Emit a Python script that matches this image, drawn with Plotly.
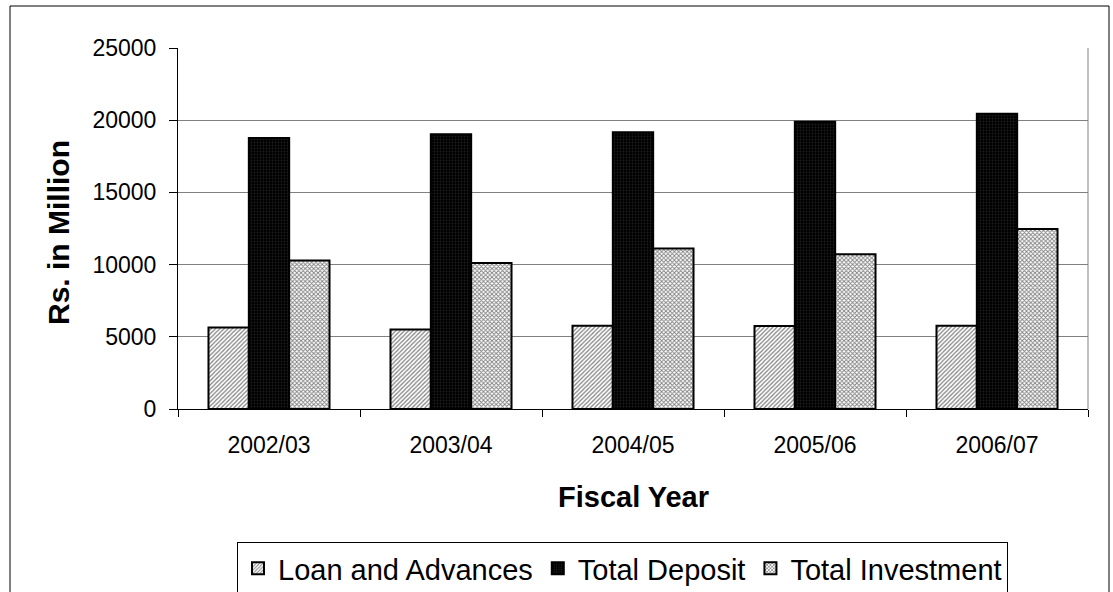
import plotly.graph_objects as go

categories = ["2002/03", "2003/04", "2004/05", "2005/06", "2006/07"]
loan_advances = [5650, 5510, 5770, 5750, 5770]
total_deposit = [18770, 19020, 19160, 19900, 20450]
total_investment = [10290, 10110, 11120, 10710, 12465]
y_ticks = [0, 5000, 10000, 15000, 20000, 25000]
y_tick_text = ["0", "5000", "10000", "15000", "20000", "25000"]

FONT = "Liberation Sans, Arial, sans-serif"

fig = go.Figure()
fig.add_trace(go.Bar(
    name="Loan and Advances", x=categories, y=loan_advances,
    marker=dict(color="white", line=dict(color="black", width=2),
                pattern=dict(shape="/", fgcolor="black", bgcolor="white", size=3, solidity=0.4)),
))
fig.add_trace(go.Bar(
    name="Total Deposit", x=categories, y=total_deposit,
    marker=dict(color="black", line=dict(color="black", width=2),
                pattern=dict(shape=".", fgcolor="#3a3a3a", bgcolor="black", size=3, solidity=0.3)),
))
fig.add_trace(go.Bar(
    name="Total Investment", x=categories, y=total_investment,
    marker=dict(color="white", line=dict(color="black", width=2),
                pattern=dict(shape="x", fgcolor="black", bgcolor="white", size=3, solidity=0.5)),
))

L, R, T, B = 178, 1088, 48, 409
W, H = 1113, 592

def px(x):
    return (x - L) / (R - L)

def py(y):
    return (B - y) / (B - T)

fig.update_layout(
    width=W, height=H,
    margin=dict(l=L, r=W - R, t=T, b=H - B, pad=0, autoexpand=False),
    paper_bgcolor="white", plot_bgcolor="white",
    barmode="group", bargap=0.335, bargroupgap=0,
    font=dict(family=FONT, color="black", size=23),
    showlegend=True,
    legend=dict(orientation="h", x=px(237), xanchor="left", y=py(542), yanchor="top",
                bordercolor="black", borderwidth=1, font=dict(size=29, family=FONT),
                itemwidth=30, tracegroupgap=0),
    xaxis=dict(showline=True, linecolor="black", linewidth=1, ticks="outside",
               tickson="boundaries", ticklen=7, tickcolor="black",
               tickfont=dict(size=23, family=FONT), showgrid=False, ticklabelstandoff=15),
    yaxis=dict(range=[0, 25000], tickvals=y_ticks, ticktext=y_tick_text, showline=True,
               linecolor="black", linewidth=1, ticks="outside", ticklen=8, tickcolor="black",
               showgrid=True, gridcolor="#808080", gridwidth=1,
               tickfont=dict(size=23, family=FONT), ticklabelstandoff=8, zeroline=False),
    shapes=[
        dict(type="rect", xref="paper", yref="paper", x0=px(10), x1=px(1109), y0=py(597), y1=py(6),
             line=dict(color="black", width=1), layer="below"),
        dict(type="line", xref="paper", yref="paper", x0=1, x1=1, y0=0, y1=1,
             line=dict(color="#808080", width=1)),
    ],
    annotations=[
        dict(text="<b>Rs. in Million</b>", xref="paper", yref="paper", x=px(58), y=py(233),
             showarrow=False, textangle=-90, font=dict(size=30, family=FONT),
             xanchor="center", yanchor="middle"),
        dict(text="<b>Fiscal Year</b>", xref="paper", yref="paper", x=0.5, y=py(497),
             showarrow=False, font=dict(size=29, family=FONT), xanchor="center", yanchor="middle"),
    ],
)

fig.write_html("out.html", config={"displayModeBar": False},
               post_script="document.body.style.margin='0px';")
